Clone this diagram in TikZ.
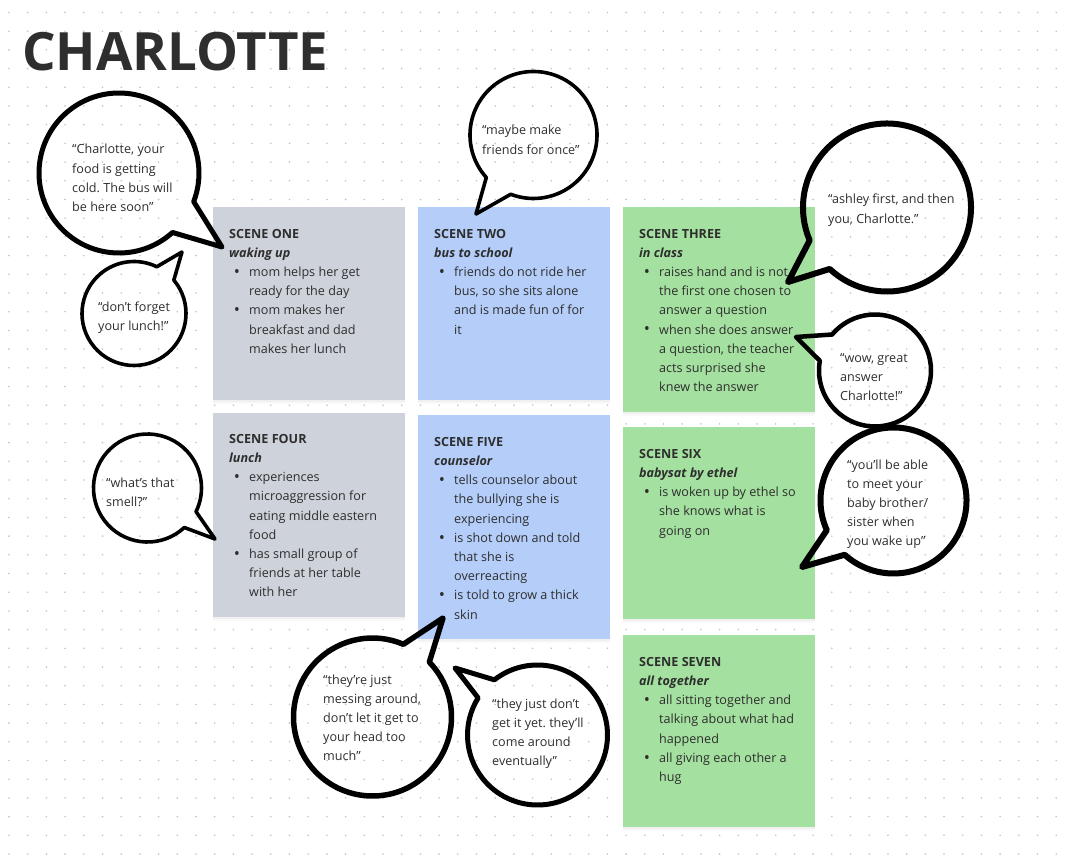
\documentclass[tikz,border=0pt]{standalone}
\usepackage{fontspec}
\setmainfont{Open Sans}
\usetikzlibrary{calc}
\frenchspacing
\definecolor{sgray}{RGB}{206,210,218}
\definecolor{sblue}{RGB}{180,205,249}
\definecolor{sgreen}{RGB}{164,224,159}
\definecolor{ink}{RGB}{46,46,46}
\definecolor{dotc}{RGB}{196,196,196}
\newcommand\bul{\makebox[20pt][l]{\hspace{4.6pt}\raisebox{-0.8pt}{\scalebox{1.3}{\textbullet}}}}
\newcommand\ind{\hspace*{20pt}}
\newcommand\lines[1]{\parbox[t]{200pt}{\raggedright\frenchspacing #1}}
\begin{document}
\begin{tikzpicture}[x=1pt,y=-1pt,
  scenebox/.style={draw=none, anchor=north west, inner sep=0pt, minimum width=192pt,
    preaction={fill=black, opacity=0.025, transform canvas={yshift=-4pt}},
    preaction={fill=black, opacity=0.035, transform canvas={yshift=-2pt}}},
  stext/.style={anchor=base west, inner sep=0pt, text=ink, font=\fontsize{12.6pt}{19.2pt}\selectfont},
  btext/.style={anchor=base west, inner sep=0pt, text=ink, font=\fontsize{12.6pt}{19.2pt}\selectfont},
  bubble/.style={draw=black, line join=round, line cap=round},
]
\fill[white] (0,0) rectangle (1072,864);
\useasboundingbox (0,0) rectangle (1072,864);
\foreach \i in {0,...,56}{
  \foreach \j in {0,...,45}{
    \fill[dotc] (9+\i*18.7, 12.5+\j*18.7) circle (0.9);
  }
}
% title
\node[anchor=base west, inner sep=0pt, text=ink, font=\fontsize{52.8pt}{52.8pt}\bfseries\selectfont] (title) at (22,70.5) {CHARLOTTE};

% scene boxes
\node[scenebox, fill=sgray, minimum height=193pt] (s1) at (213,207) {};
\node[scenebox, fill=sblue, minimum height=193pt] (s2) at (418,207) {};
\node[scenebox, fill=sgreen, minimum height=205pt] (s3) at (623,207) {};
\node[scenebox, fill=sgray, minimum height=204pt] (s4) at (213,413) {};
\node[scenebox, fill=sblue, minimum height=224pt] (s5) at (418,415) {};
\node[scenebox, fill=sgreen, minimum height=192pt] (s6) at (623,427) {};
\node[scenebox, fill=sgreen, minimum height=192pt] (s7) at (623,635) {};

\node[stext] (t1) at ($(s1.north west)+(16,31.2)$) {\lines{\textbf{SCENE ONE}\\
\textbf{\textit{waking up}}\\
\bul mom helps her get\\
\ind ready for the day\\
\bul mom makes her\\
\ind breakfast and dad\\
\ind makes her lunch}};
\node[stext] (t2) at ($(s2.north west)+(16,31.2)$) {\lines{\textbf{SCENE TWO}\\
\textbf{\textit{bus to school}}\\
\bul friends do not ride her\\
\ind bus, so she sits alone\\
\ind and is made fun of for\\
\ind it}};
\node[stext] (t3) at ($(s3.north west)+(16,31.2)$) {\lines{\textbf{SCENE THREE}\\
\textbf{\textit{in class}}\\
\bul raises hand and is not\\
\ind the first one chosen to\\
\ind answer a question\\
\bul when she does answer\\
\ind a question, the teacher\\
\ind acts surprised she\\
\ind knew the answer}};
\node[stext] (t4) at ($(s4.north west)+(16,30.2)$) {\lines{\textbf{SCENE FOUR}\\
\textbf{\textit{lunch}}\\
\bul experiences\\
\ind microaggression for\\
\ind eating middle eastern\\
\ind food\\
\bul has small group of\\
\ind friends at her table\\
\ind with her}};
\node[stext] (t5) at ($(s5.north west)+(16,31.2)$) {\lines{\textbf{SCENE FIVE}\\
\textbf{\textit{counselor}}\\
\bul tells counselor about\\
\ind the bullying she is\\
\ind experiencing\\
\bul is shot down and told\\
\ind that she is\\
\ind overreacting\\
\bul is told to grow a thick\\
\ind skin}};
\node[stext] (t6) at ($(s6.north west)+(16,31.2)$) {\lines{\textbf{SCENE SIX}\\
\textbf{\textit{babysat by ethel}}\\
\bul is woken up by ethel so\\
\ind she knows what is\\
\ind going on}};
\node[stext] (t7) at ($(s7.north west)+(16,31.2)$) {\lines{\textbf{SCENE SEVEN}\\
\textbf{\textit{all together}}\\
\bul all sitting together and\\
\ind talking about what had\\
\ind happened\\
\bul all giving each other a\\
\ind hug}};

% bubble centres and tail tips
\coordinate (b1c) at (119,173);   \coordinate (b1t) at (222,247);
\coordinate (b2c) at (134,313.5); \coordinate (b2t) at (182,252);
\coordinate (b3c) at (533.5,135); \coordinate (b3t) at (476,214);
\coordinate (b4c) at (887,207.5); \coordinate (b4t) at (788,282);
\coordinate (b5c) at (875,370.5); \coordinate (b5t) at (796,337);
\coordinate (b6c) at (893.5,500.5); \coordinate (b6t) at (802,567);
\coordinate (b7c) at (147.5,488); \coordinate (b7t) at (215,539);
\coordinate (b8c) at (372.5,717); \coordinate (b8t) at (443,618);
\coordinate (b9c) at (537.5,735); \coordinate (b9t) at (455,668);

\draw[bubble, line width=5pt] ($(b1c)+(21:80)$) -- (b1t) -- ($(b1c)+(48:80)$) arc[start angle=48, end angle=381, radius=80] -- cycle;
\draw[bubble, line width=3.6pt] ($(b2c)+(-64:52)$) -- (b2t) -- ($(b2c)+(-40:52)$) arc[start angle=-40, end angle=296, radius=52] -- cycle;
\draw[bubble, line width=3.6pt] ($(b3c)+(111:63.5)$) -- (b3t) -- ($(b3c)+(138:63.5)$) arc[start angle=138, end angle=471, radius=63.5] -- cycle;
\draw[bubble, line width=6pt] ($(b4c)+(133:84)$) -- (b4t) -- ($(b4c)+(157:84)$) arc[start angle=157, end angle=493, radius=84] -- cycle;
\draw[bubble, line width=4.5pt] ($(b5c)+(190:56)$) -- (b5t) -- ($(b5c)+(220:56)$) arc[start angle=220, end angle=550, radius=56] -- cycle;
\draw[bubble, line width=6pt] ($(b6c)+(132:73)$) -- (b6t) -- ($(b6c)+(156:73)$) arc[start angle=156, end angle=492, radius=73] -- cycle;
\draw[bubble, line width=3.6pt] ($(b7c)+(26:54)$) -- (b7t) -- ($(b7c)+(47:54)$) arc[start angle=47, end angle=386, radius=54] -- cycle;
\draw[bubble, line width=5.5pt] ($(b8c)+(293:79)$) -- (b8t) -- ($(b8c)+(316:79)$) arc[start angle=316, end angle=653, radius=79] -- cycle;
\draw[bubble, line width=5pt] ($(b9c)+(212:70)$) -- (b9t) -- ($(b9c)+(232:70)$) arc[start angle=232, end angle=572, radius=70] -- cycle;

% bubble texts
\node[btext] (q1) at (72,154) {\lines{“Charlotte, your\\ food is getting\\ cold. The bus will\\ be here soon”}};
\node[btext] (q2) at (98,311) {\lines{“don’t forget\\ your lunch!”}};
\node[btext] (q3) at (482,135) {\lines{“maybe make\\ friends for once”}};
\node[btext] (q4) at (828,204) {\lines{“ashley first, and then\\ you, Charlotte.”}};
\node[btext] (q5) at (840,362) {\lines{“wow, great\\ answer\\ Charlotte!”}};
\node[btext] (q6) at (847,469) {\lines{“you’ll be able\\ to meet your\\ baby brother/\\ sister when\\ you wake up”}};
\node[btext] (q7) at (106,487) {\lines{“what’s that\\ smell?”}};
\node[btext] (q8) at (323,684) {\lines{“they’re just\\ messing around,\\ don’t let it get to\\ your head too\\ much”}};
\node[btext] (q9) at (492,708) {\lines{“they just don’t\\ get it yet. they’ll\\ come around\\ eventually”}};
\end{tikzpicture}
\end{document}
